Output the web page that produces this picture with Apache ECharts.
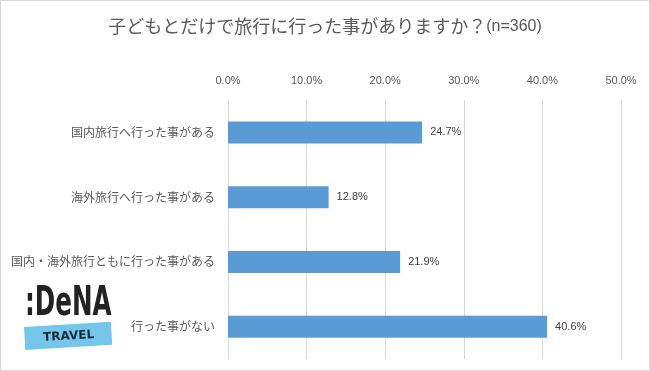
<!DOCTYPE html>
<html><head><meta charset="utf-8">
<script src="https://cdn.jsdelivr.net/npm/echarts@6/dist/echarts.min.js"></script>
<style>html,body{margin:0;padding:0;background:#fff}#c{width:650px;height:371px;box-sizing:border-box;border:1px solid #d9d9d9}</style>
</head><body><div id="c"></div>
<script>
const categories = ['国内旅行へ行った事がある','海外旅行へ行った事がある','国内・海外旅行ともに行った事がある','行った事がない'];
const values = [24.7, 12.8, 21.9, 40.6];
const ticks = [0, 10, 20, 30, 40, 50];

const chart = echarts.init(document.getElementById('c'));
const font = '"Noto Sans CJK JP", "Noto Sans", sans-serif';
chart.setOption({
  animation: false,
  textStyle: {fontFamily: font},
  title: {
    text: '子どもとだけで旅行に行った事がありますか？{s|(n=360)}',
    left: 'center', top: 11,
    textStyle: {fontSize: 18, fontWeight: 'normal', color: '#595959', fontFamily: font,
      rich: {s: {fontSize: 16, color: '#595959', fontFamily: 'Liberation Sans, sans-serif', padding:[2,0,0,0]}}}
  },
  grid: {left: 227, right: 28, top: 99, bottom: 11, containLabel: false},
  xAxis: {
    type: 'value', position: 'top', min: 0, max: 50, interval: 10,
    axisLine: {show: false}, axisTick: {show: false},
    axisLabel: {formatter: v => v.toFixed(1) + '%', color: '#595959', fontSize: 11, margin: 14, fontFamily: 'Liberation Sans, sans-serif'},
    splitLine: {lineStyle: {color: '#d9d9d9', width: 1}}
  },
  yAxis: {
    type: 'category', data: categories, inverse: true,
    axisLine: {show: false}, axisTick: {show: false},
    axisLabel: {color: '#595959', fontSize: 12, margin: 13}
  },
  series: [{
    type: 'bar', data: values, barWidth: 22,
    itemStyle: {color: '#5B9BD5'},
    label: {show: true, position: 'right', distance: 8, formatter: p => p.value.toFixed(1) + '%', color: '#404040', fontSize: 11, fontFamily: 'Liberation Sans, sans-serif'}
  }],
  graphic: [
    {type: 'text', x: 24, y: 283, scaleX: 0.6, style: {text: ':DeNA', font: 'bold 41px "DejaVu Sans", sans-serif', fill: '#222'}},
    {type: 'group', x: 23, y: 326, rotation: 0.06, children: [
      {type: 'rect', shape: {x: 0, y: 0, width: 87, height: 23}, style: {fill: '#74C6EA'}},
      {type: 'text', style: {text: 'TRAVEL', x: 44, y: 12, align: 'center', verticalAlign: 'middle', font: 'bold 12px "DejaVu Sans", sans-serif', fill: '#1a2a3a'}}
    ]}
  ]
});
</script></body></html>
